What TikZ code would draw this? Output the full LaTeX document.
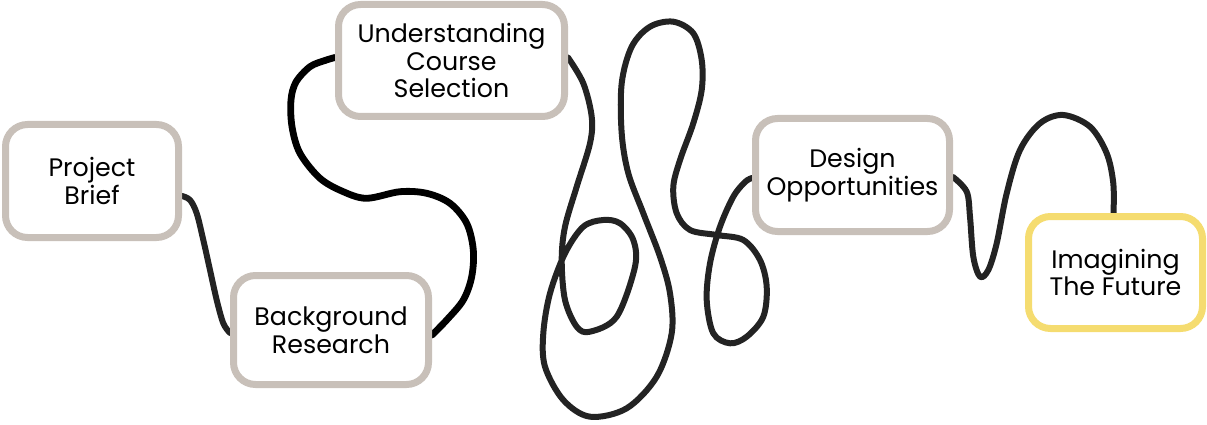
\documentclass[tikz,border=0pt]{standalone}
\usepackage{fontspec}
\setmainfont{Poppins}
\usetikzlibrary{calc,backgrounds}
\definecolor{boxgray}{RGB}{200,192,185}
\definecolor{boxyellow}{RGB}{245,220,112}
\definecolor{linedark}{RGB}{35,35,35}
\tikzset{
  stage/.style={draw=boxgray, line width=7pt, rounded corners=22pt, fill=white,
    inner sep=0pt, align=center, font=\fontsize{25.3}{27.7}\selectfont},
  conn/.style={draw=linedark, line width=6pt, line cap=round, line join=round},
}
\begin{document}
\begin{tikzpicture}[x=1pt,y=-1pt]
\useasboundingbox (0,0) rectangle (1207,425);
\node[stage, minimum width=173pt, minimum height=113pt] (pb) at (92,181) {Project\\Brief};
\node[stage, minimum width=195pt, minimum height=109pt] (bg) at (331,330) {Background\\Research};
\node[stage, minimum width=226pt, minimum height=112pt] (us) at (451.5,60.5) {Understanding\\Course\\Selection};
\node[stage, minimum width=194pt, minimum height=113pt] (do) at (852.5,175) {Design\\Opportunities};
\node[stage, draw=boxyellow, minimum width=174pt, minimum height=112pt] (if) at (1115.5,272.5) {Imagining\\The Future};

\coordinate (pbo) at ($(pb.east)+(0,15)$);
\coordinate (bgi) at ($(bg.west)+(0,3)$);
\coordinate (bgo) at ($(bg.east)+(0,5)$);
\coordinate (usi) at ($(us.west)+(0,-3)$);
\coordinate (uso) at ($(us.east)+(0,-3)$);
\coordinate (doi) at ($(do.west)+(0,3)$);
\coordinate (doo) at ($(do.east)+(0,2)$);
\coordinate (ifi) at ($(if.north)+(-2,0)$);

\begin{scope}[on background layer]
\draw[conn] plot[smooth, tension=0.55] coordinates {(pbo) (190,200) (196.7,213.3) (203.3,240) (210,270) (216.7,300) (223.3,323.3) (bgi)};
\draw[conn, draw=black, line width=6.8pt] plot[smooth, tension=0.55] coordinates {(bgo) (446.7,320) (463.3,300) (471.7,276.7) (473.3,250) (466.7,223.3) (450,203.3) (426.7,193.3) (400,191.7) (366.7,198.3) (343.3,191.7) (320,178.3) (300,153.3) (292,126.7) (291,100) (296,82) (310,66.7) (325,60.5) (usi)};
\draw[conn] plot[smooth, tension=0.55] coordinates {(uso) (583.3,83.3) (591.7,116.7) (590,143.3) (576.7,186.7) (565,226.7) (561.7,260) (565,300) (576.7,326.7) (590,331.7) (616.7,316.7) (635,266.7) (633.3,240) (620,223.3) (603.3,220) (583.3,226.7) (565,253.3) (550,293.3) (543.3,333.3) (545,366.7) (563.3,400) (590,416.7) (626.7,408.3) (656.7,376.7) (671.7,333.3) (670,293.3) (660,256.7) (643.3,213.3) (628.3,173.3) (621.7,133.3) (621.7,83.3) (631.7,46.7) (650,26.7) (673.3,21.7) (693.3,33.3) (701.7,60) (701.7,90) (693.3,123.3) (680,160) (673.3,186.7) (676.7,213.3) (690,230) (716.7,235) (743.3,240) (760,260) (766.7,286.7) (763.3,316.7) (746.7,336.7) (730,343.3) (713.3,333.3) (706.7,300) (710,263.3) (720,226.7) (733.3,196.7) (745,182) (doi)};
\draw[conn] plot[smooth, tension=0.55] coordinates {(doo) (966.7,191.7) (970,216.7) (973.3,256.7) (980,276.7) (988.3,270) (996.7,243.3) (1006.7,193.3) (1020,150) (1040,123.3) (1063.3,115) (1090,126.7) (1106.7,153.3) (1113.3,183.3) (ifi)};
\end{scope}
\end{tikzpicture}
\end{document}
